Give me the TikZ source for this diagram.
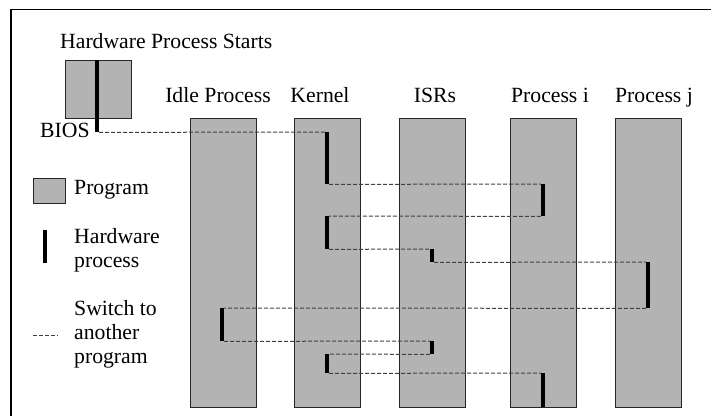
\documentclass[tikz,border=0pt]{standalone}
\usepackage{fontspec}
\setmainfont{Liberation Serif}
\definecolor{progfill}{RGB}{179,179,179}
\begin{document}
\begin{tikzpicture}[x=1pt,y=-1pt,
  prog/.style={draw=black!85, line width=0.8pt, fill=progfill, inner sep=0pt,
               minimum width=66pt, minimum height=289pt, anchor=north west},
  hw/.style={fill=black, inner sep=0pt, minimum width=4pt, anchor=north},
  switch/.style={draw=black!75, line width=1pt, dash pattern=on 4pt off 2pt},
  lbl/.style={font=\fontsize{21.7}{24}\selectfont, inner sep=0pt}]
\useasboundingbox (0,0) rectangle (711,415);

% outer frame
\draw[line width=1.5pt] (11,416) -- (11,9.7) -- (712,9.7);

% title and BIOS
\node[lbl, anchor=base west] (title) at (60,48) {Hardware Process Starts};
\node[prog, minimum width=66pt, minimum height=58pt] (bios) at (65,60) {};
\node[lbl, anchor=base west] (biostxt) at (40,137) {BIOS};

% program columns
\node[prog] (idle) at (190,118) {};
\node[prog] (kern) at (294,118) {};
\node[prog] (isr)  at (399,118) {};
\node[prog] (pi)   at (510,118) {};
\node[prog] (pj)   at (615,118) {};

\node[lbl, anchor=base] (idlelbl) at (218,102) {Idle Process};
\node[lbl, anchor=base] (kernlbl) at (320,102) {Kernel};
\node[lbl, anchor=base] (isrlbl)  at (435,102) {ISRs};
\node[lbl, anchor=base] (pilbl)   at (550,102) {Process i};
\node[lbl, anchor=base] (pjlbl)   at (654,102) {Process j};

% hardware process segments
\node[hw, minimum height=72pt] (b0) at (97,60) {};
\node[hw, minimum height=52pt] (k1) at (327,132) {};
\node[hw, minimum height=32pt] (p1) at (543,184) {};
\node[hw, minimum height=33pt] (k2) at (327,216) {};
\node[hw, minimum height=13pt] (s1) at (432,249) {};
\node[hw, minimum height=46pt] (j1) at (648,262) {};
\node[hw, minimum height=33pt] (i1) at (222,308) {};
\node[hw, minimum height=13pt] (s2) at (432,341) {};
\node[hw, minimum height=19pt] (k3) at (327,354) {};
\node[hw, minimum height=34pt] (p2) at (543,373) {};

% switches between programs
\draw[switch] (b0.south east) -- (k1.north west);
\draw[switch] (k1.south east) -- (p1.north west);
\draw[switch] (p1.south west) -- (k2.north east);
\draw[switch] (k2.south east) -- (s1.north west);
\draw[switch] (s1.south east) -- (j1.north west);
\draw[switch] (j1.south west) -- (i1.north east);
\draw[switch] (i1.south east) -- (s2.north west);
\draw[switch] (s2.south west) -- (k3.north east);
\draw[switch] (k3.south east) -- (p2.north west);

% legend
\node[prog, minimum width=32pt, minimum height=25pt] (lgprog) at (33,178) {};
\node[lbl, anchor=base west] (lgprogtxt) at (74,194) {Program};
\node[hw, minimum height=33pt] (lghw) at (45,230) {};
\node[lbl, anchor=west, align=left] (lghwtxt) at (74,250.2) {Hardware\\process};
\coordinate (lgsa) at (33,335);
\coordinate (lgsb) at (58,335);
\draw[switch] (lgsa) -- (lgsb);
\node[lbl, anchor=west, align=left] (lgswtxt) at (74,334.1) {Switch to\\another\\program};
\end{tikzpicture}
\end{document}
